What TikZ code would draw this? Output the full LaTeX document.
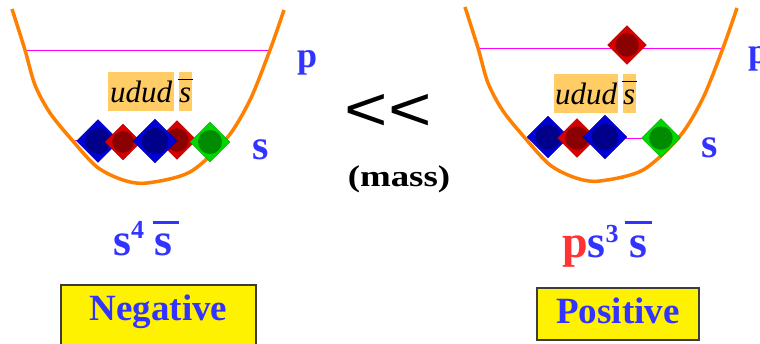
\documentclass[tikz,border=0pt]{standalone}
\usepackage{graphicx}
\usepackage{fontspec}
\setmainfont{Liberation Serif}
\newfontfamily\lessfont{Liberation Sans}
\usetikzlibrary{shapes.geometric,positioning}

\definecolor{lblue}{RGB}{51,51,255}
\definecolor{lred}{RGB}{255,51,51}
\definecolor{bowl}{RGB}{255,128,0}
\definecolor{level}{RGB}{255,0,255}
\definecolor{qbox}{RGB}{255,204,102}
\definecolor{qblue}{RGB}{0,0,215}
\definecolor{qred}{RGB}{215,0,0}
\definecolor{qgreen}{RGB}{0,215,0}
\definecolor{tagline}{RGB}{60,60,60}

\newcommand{\fs}[1]{\fontsize{#1}{#1}\selectfont}
% s with a bar: raise, width, thickness, kern
\newcommand{\barred}[4]{\makebox[0pt][l]{\kern#4\rule[#1]{#2}{#3}}s}

\begin{document}
\begin{tikzpicture}[x=1pt, y=-1pt,
  bowlline/.style={draw=bowl, line width=3.5pt},
  levelline/.style={draw=level, line width=1pt},
  quark/.style 2 args={diamond, draw=#1!75!black, fill=#1, minimum size=#2, inner sep=0pt,
    path picture={\fill[#1!50!black, opacity=.7] (path picture bounding box.center) circle[radius=0.3*#2];}},
  qlabel/.style={fill=qbox, inner sep=0pt, font=\fs{31}\itshape, text height=21pt, text depth=0pt, minimum height=39},
  lbl/.style={inner sep=0pt, text=lblue, font=\bfseries},
  tag/.style={draw=tagline, fill=yellow, line width=1.5pt, text=lblue, font=\fs{37}\bfseries,
    inner xsep=0pt, inner ysep=11pt, text height=25pt}]
  \useasboundingbox (0,0) rectangle (760,343);
  \clip (0,0) rectangle (760,343);

  % the two wells with their p and s levels
  \foreach \dx/\dy in {0/0, 453/-2} {
    \begin{scope}[shift={(\dx,\dy)}]
      \draw[levelline] (25,50) -- (270,50);
      \draw[levelline] (72,140) -- (227,140);
      \draw[bowlline] plot[smooth, tension=0.5] coordinates {(12,9) (25,50) (35,85) (50,113) (72,140)
        (97,167) (123,180) (147,183) (190,172) (227,138) (250,100) (270,50) (284,10)};
    \end{scope}
  }

  % left: s^4 sbar
  \node[quark={qblue}{43}] (b1L) at (98,141) {};
  \node[quark={qred}{36}] (r1L) at (123,142) {};
  \node[quark={qred}{39}] (r2L) at (177,140) {};
  \node[quark={qblue}{44}] (b2L) at (155,141) {};
  \node[quark={qgreen}{40}] (gL) at (210,142) {};

  % right: p s^3 sbar
  \node[quark={qred}{39}] (rp) at (627,45) {};
  \node[quark={qblue}{42}] (b1R) at (548,137) {};
  \node[quark={qred}{39}] (r1R) at (577,138) {};
  \node[quark={qblue}{44}] (b2R) at (605,137) {};
  \node[quark={qgreen}{39}] (gR) at (661,138) {};

  \node[qlabel, minimum width=66, anchor=north west] (udL) at (108,72) {udud};
  \node[qlabel, minimum width=13, right=4pt of udL] (sbL) {\barred{22pt}{15pt}{1.3pt}{-1.5pt}};
  \node[qlabel, minimum width=64, anchor=north west] (udR) at (554,74) {udud};
  \node[qlabel, minimum width=13, right=4pt of udR] (sbR) {\barred{22pt}{15pt}{1.3pt}{-1.5pt}};

  \node[lbl, font=\fs{36}\bfseries, anchor=base west] (pL) at (297,67) {p};
  \node[lbl, font=\fs{42}\bfseries, anchor=base west] (sL) at (252,159) {s};
  \node[lbl, font=\fs{36}\bfseries, anchor=base west] (pR) at (748,63) {p};
  \node[lbl, font=\fs{42}\bfseries, anchor=base west] (sR) at (701,157) {s};

  \node[font=\lessfont\fs{62}, anchor=base] (ll) at (388,130) {\scalebox{1.2}[1]{{<}{<}}};
  \node[font=\fs{30}\bfseries, anchor=base] (mass) at (399,186) {\scalebox{1.23}[1]{(mass)}};

  \node[lbl, font=\fs{46}\bfseries, anchor=base west] (cfgL) at (113,255)
    {s\raisebox{17pt}{\fs{26}4}\hspace{10pt}\barred{31pt}{26pt}{3pt}{-1pt}};
  \node[lbl, font=\fs{46}\bfseries, anchor=base west] (cfgR) at (562,257)
    {\textcolor{lred}{p}s\raisebox{15pt}{\fs{26}3}\hspace{11pt}\barred{33pt}{27pt}{3pt}{-5pt}};

  \node[tag, minimum width=195, text depth=30pt, anchor=north] (neg) at (158.5,284) {Negative};
  \node[tag, minimum width=162, text depth=5pt, anchor=north] (pos) at (618,287) {Positive};
\end{tikzpicture}
\end{document}
